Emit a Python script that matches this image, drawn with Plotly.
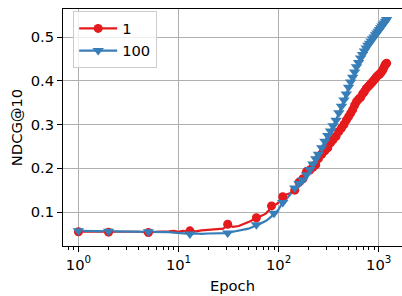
import plotly.graph_objects as go

epochs = [1, 2, 3, 4, 5, 6, 7, 8, 9, 10, 11, 12, 13, 15, 17, 20, 23, 26, 28, 31,
          35, 40, 45, 50, 55, 60, 65, 70, 75, 80, 85, 90, 95, 100, 110, 120, 130,
          145, 160, 175, 190, 205, 220, 235, 250, 270, 290, 310, 330, 350, 375,
          400, 425, 450, 475, 500, 525, 550, 575, 600, 630, 660, 690, 720, 750,
          780, 810, 840, 870, 900, 930, 960, 990, 1020, 1050, 1080, 1110, 1140,
          1170, 1200]

ndcg_1 = [0.055, 0.054, 0.055, 0.055, 0.053, 0.055, 0.055, 0.056, 0.057, 0.055,
          0.057, 0.056, 0.057, 0.056, 0.058, 0.059, 0.060, 0.061, 0.062, 0.072,
          0.066, 0.068, 0.072, 0.077, 0.082, 0.087, 0.090, 0.093, 0.097, 0.104,
          0.114, 0.116, 0.118, 0.122, 0.135, 0.140, 0.143, 0.150, 0.168, 0.176,
          0.192, 0.196, 0.202, 0.208, 0.222, 0.232, 0.240, 0.247, 0.258, 0.265,
          0.273, 0.284, 0.292, 0.300, 0.310, 0.318, 0.326, 0.334, 0.344, 0.352,
          0.358, 0.362, 0.370, 0.375, 0.382, 0.386, 0.390, 0.394, 0.398, 0.402,
          0.406, 0.410, 0.413, 0.415, 0.418, 0.422, 0.427, 0.433, 0.438, 0.440]

ndcg_100 = [0.057, 0.056, 0.056, 0.056, 0.055, 0.055, 0.054, 0.054, 0.053, 0.052,
            0.051, 0.050, 0.050, 0.051, 0.050, 0.051, 0.051, 0.052, 0.051, 0.052,
            0.055, 0.058, 0.060, 0.062, 0.066, 0.071, 0.073, 0.076, 0.080, 0.085,
            0.090, 0.097, 0.100, 0.106, 0.122, 0.130, 0.140, 0.155, 0.165, 0.173,
            0.185, 0.197, 0.210, 0.222, 0.232, 0.247, 0.262, 0.275, 0.285, 0.297,
            0.310, 0.327, 0.342, 0.356, 0.370, 0.385, 0.397, 0.408, 0.420, 0.432,
            0.442, 0.452, 0.460, 0.468, 0.475, 0.481, 0.486, 0.491, 0.496, 0.500,
            0.505, 0.509, 0.513, 0.517, 0.521, 0.525, 0.529, 0.532, 0.536, 0.540]

# epochs at which markers are drawn (subset of epochs)
marker_epochs_1 = [1, 2, 5, 13, 31, 60, 85, 110, 145]
marker_epochs_100 = [1, 2, 5, 13, 31, 60, 90, 110, 145]
dense_marker_start = 160

x_ticks = [1, 10, 100, 1000]
x_ticklabels = ["10<sup>0</sup>", "10<sup>1</sup>", "10<sup>2</sup>", "10<sup>3</sup>"]
y_ticks = [0.1, 0.2, 0.3, 0.4, 0.5]
y_ticklabels = ["0.1", "0.2", "0.3", "0.4", "0.5"]

RED = "#e41a1c"
BLUE = "#377eb8"
FONT = "DejaVu Sans"
FS = 14.7


def pick(ep, vals, marks):
    xs, ys = [], []
    for e, v in zip(ep, vals):
        if e in marks or e >= dense_marker_start:
            xs.append(e)
            ys.append(v)
    return xs, ys


fig = go.Figure()
series = [
    ("1", ndcg_1, marker_epochs_1, RED, "circle", 9),
    ("100", ndcg_100, marker_epochs_100, BLUE, "triangle-down", 10),
]
for name, vals, marks, color, sym, size in series:
    fig.add_trace(go.Scatter(x=epochs, y=vals, mode="lines",
                             line=dict(color=color, width=2.2), showlegend=False,
                             hoverinfo="skip"))
for name, vals, marks, color, sym, size in series:
    mx, my = pick(epochs, vals, marks)
    fig.add_trace(go.Scatter(x=mx, y=my, mode="markers",
                             marker=dict(color=color, symbol=sym, size=size,
                                         line=dict(width=0)),
                             showlegend=False))
for name, vals, marks, color, sym, size in series:
    fig.add_trace(go.Scatter(x=[None], y=[None], mode="lines+markers", name=name,
                             line=dict(color=color, width=2.2),
                             marker=dict(color=color, symbol=sym, size=size)))

fig.update_layout(
    width=402, height=296,
    margin=dict(l=63, r=0, t=9, b=50, autoexpand=False),
    paper_bgcolor="white", plot_bgcolor="white",
    font=dict(family=FONT, size=FS, color="black"),
    showlegend=True,
    legend=dict(x=0.03, y=0.99, xanchor="left", yanchor="top",
                bgcolor="rgba(255,255,255,0.8)", bordercolor="#cccccc",
                borderwidth=1, font=dict(size=FS), itemwidth=38,
                tracegroupgap=0),
)
fig.update_xaxes(
    type="log", range=[-0.154, 3.233], automargin=False,
    tickvals=x_ticks, ticktext=x_ticklabels,
    ticks="outside", ticklen=5, tickwidth=1, tickcolor="black",
    showline=True, linecolor="black", linewidth=1, mirror=True,
    showgrid=True, gridcolor="#b0b0b0", gridwidth=1, zeroline=False,
    minor=dict(ticks="outside", ticklen=3, tickcolor="black", showgrid=False, dtick="D1"),
    title=dict(text="Epoch", font=dict(size=FS), standoff=9),
)
fig.update_yaxes(
    range=[0.0224, 0.564], automargin=False,
    tickvals=y_ticks, ticktext=y_ticklabels,
    ticks="outside", ticklen=5, tickwidth=1, tickcolor="black",
    showline=True, linecolor="black", linewidth=1, mirror=True,
    showgrid=True, gridcolor="#b0b0b0", gridwidth=1, zeroline=False,
    title=dict(text="NDCG@10", font=dict(size=FS), standoff=4),
)

fig.write_html("out.html", config={"displayModeBar": False},
               post_script="document.body.style.margin='0';document.body.style.overflow='hidden';")
